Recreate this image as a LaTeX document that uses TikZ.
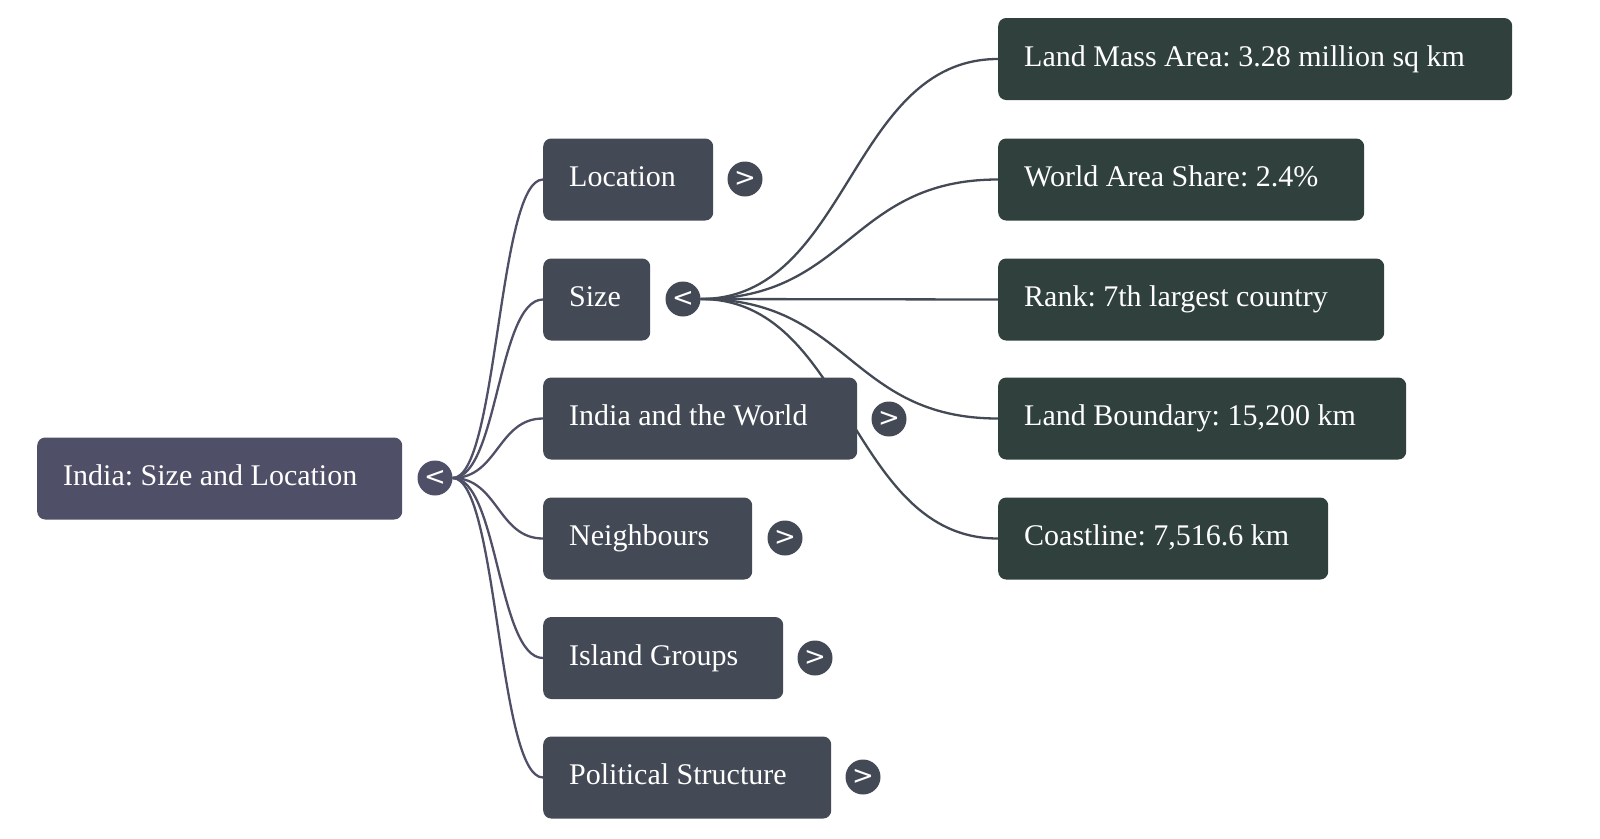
\documentclass[tikz,border=0pt]{standalone}
\usepackage{fontspec}
\setmainfont{Liberation Serif}
\newfontfamily\tgfont{DejaVu Sans}
\usetikzlibrary{calc}
\definecolor{rootc}{HTML}{4F5067}
\definecolor{lonec}{HTML}{434A55}
\definecolor{ltwoc}{HTML}{2F403D}
\pgfdeclarelayer{bg}
\pgfsetlayers{bg,main}
\tikzset{
  box/.style={rectangle, rounded corners=8pt, inner xsep=26pt, inner ysep=0pt,
    minimum height=82pt, text height=20.5pt, text depth=6.5pt, anchor=west,
    align=flush left, text=white, font=\fontsize{30}{34}\selectfont\frenchspacing},
  rootbox/.style={box, fill=rootc},
  onebox/.style={box, fill=lonec},
  twobox/.style={box, fill=ltwoc},
  toggle/.style={circle, minimum size=35pt, inner sep=0pt, text=white,
    font=\tgfont\fontsize{26}{26}\selectfont},
  rootlink/.style={draw=rootc, line width=2.3pt},
  onelink/.style={draw=lonec, line width=2.3pt},
}
\newcommand\mmlink[3]{\draw[#3] let \p1=(#1.east), \p2=(#2.west) in (\p1) .. controls ({(\x1+\x2)/2},\y1) and ({(\x1+\x2)/2},\y2) .. (\p2);}
\begin{document}
\begin{tikzpicture}[x=1pt,y=-1pt]
\useasboundingbox (0,0) rectangle (1600,838);
% root
\node[rootbox, text width=313pt] (root) at (37,478.5) {India: Size and Location};
\node[toggle, fill=rootc] (troot) at (435,478) {<};
% level 1
\node[onebox, text width=118pt] (loc) at (543,179.5) {Location};
\node[toggle, fill=lonec] (tloc) at (745,179) {>};
\node[onebox, text width=55pt] (size) at (543,299.5) {Size};
\node[toggle, fill=lonec] (tsize) at (683,299) {<};
\node[onebox, text width=262pt] (world) at (543,418.5) {India and the World};
\node[toggle, fill=lonec] (tworld) at (889,419) {>};
\node[onebox, text width=157pt] (neigh) at (543,538.5) {Neighbours};
\node[toggle, fill=lonec] (tneigh) at (785,538) {>};
\node[onebox, text width=188pt] (isl) at (543,658) {Island Groups};
\node[toggle, fill=lonec] (tisl) at (815,658) {>};
\node[onebox, text width=236pt] (pol) at (543,777.5) {Political Structure};
\node[toggle, fill=lonec] (tpol) at (863,777) {>};
% level 2
\node[twobox, text width=462pt] (land) at (998,59) {Land Mass Area: 3.28 million sq km};
\node[twobox, text width=314pt] (share) at (998,179.5) {World Area Share: 2.4\%};
\node[twobox, text width=334pt] (rank) at (998,299.5) {Rank: 7th largest country};
\node[twobox, text width=356pt] (bound) at (998,418.5) {Land Boundary: 15,200 km};
\node[twobox, text width=278pt] (coast) at (998,538.5) {Coastline: 7,516.6 km};
\begin{pgfonlayer}{bg}
\mmlink{troot}{loc}{rootlink}
\mmlink{troot}{size}{rootlink}
\mmlink{troot}{world}{rootlink}
\mmlink{troot}{neigh}{rootlink}
\mmlink{troot}{isl}{rootlink}
\mmlink{troot}{pol}{rootlink}
\mmlink{tsize}{land}{onelink}
\mmlink{tsize}{share}{onelink}
\mmlink{tsize}{rank}{onelink}
\mmlink{tsize}{bound}{onelink}
\mmlink{tsize}{coast}{onelink}
\end{pgfonlayer}
\end{tikzpicture}
\end{document}
